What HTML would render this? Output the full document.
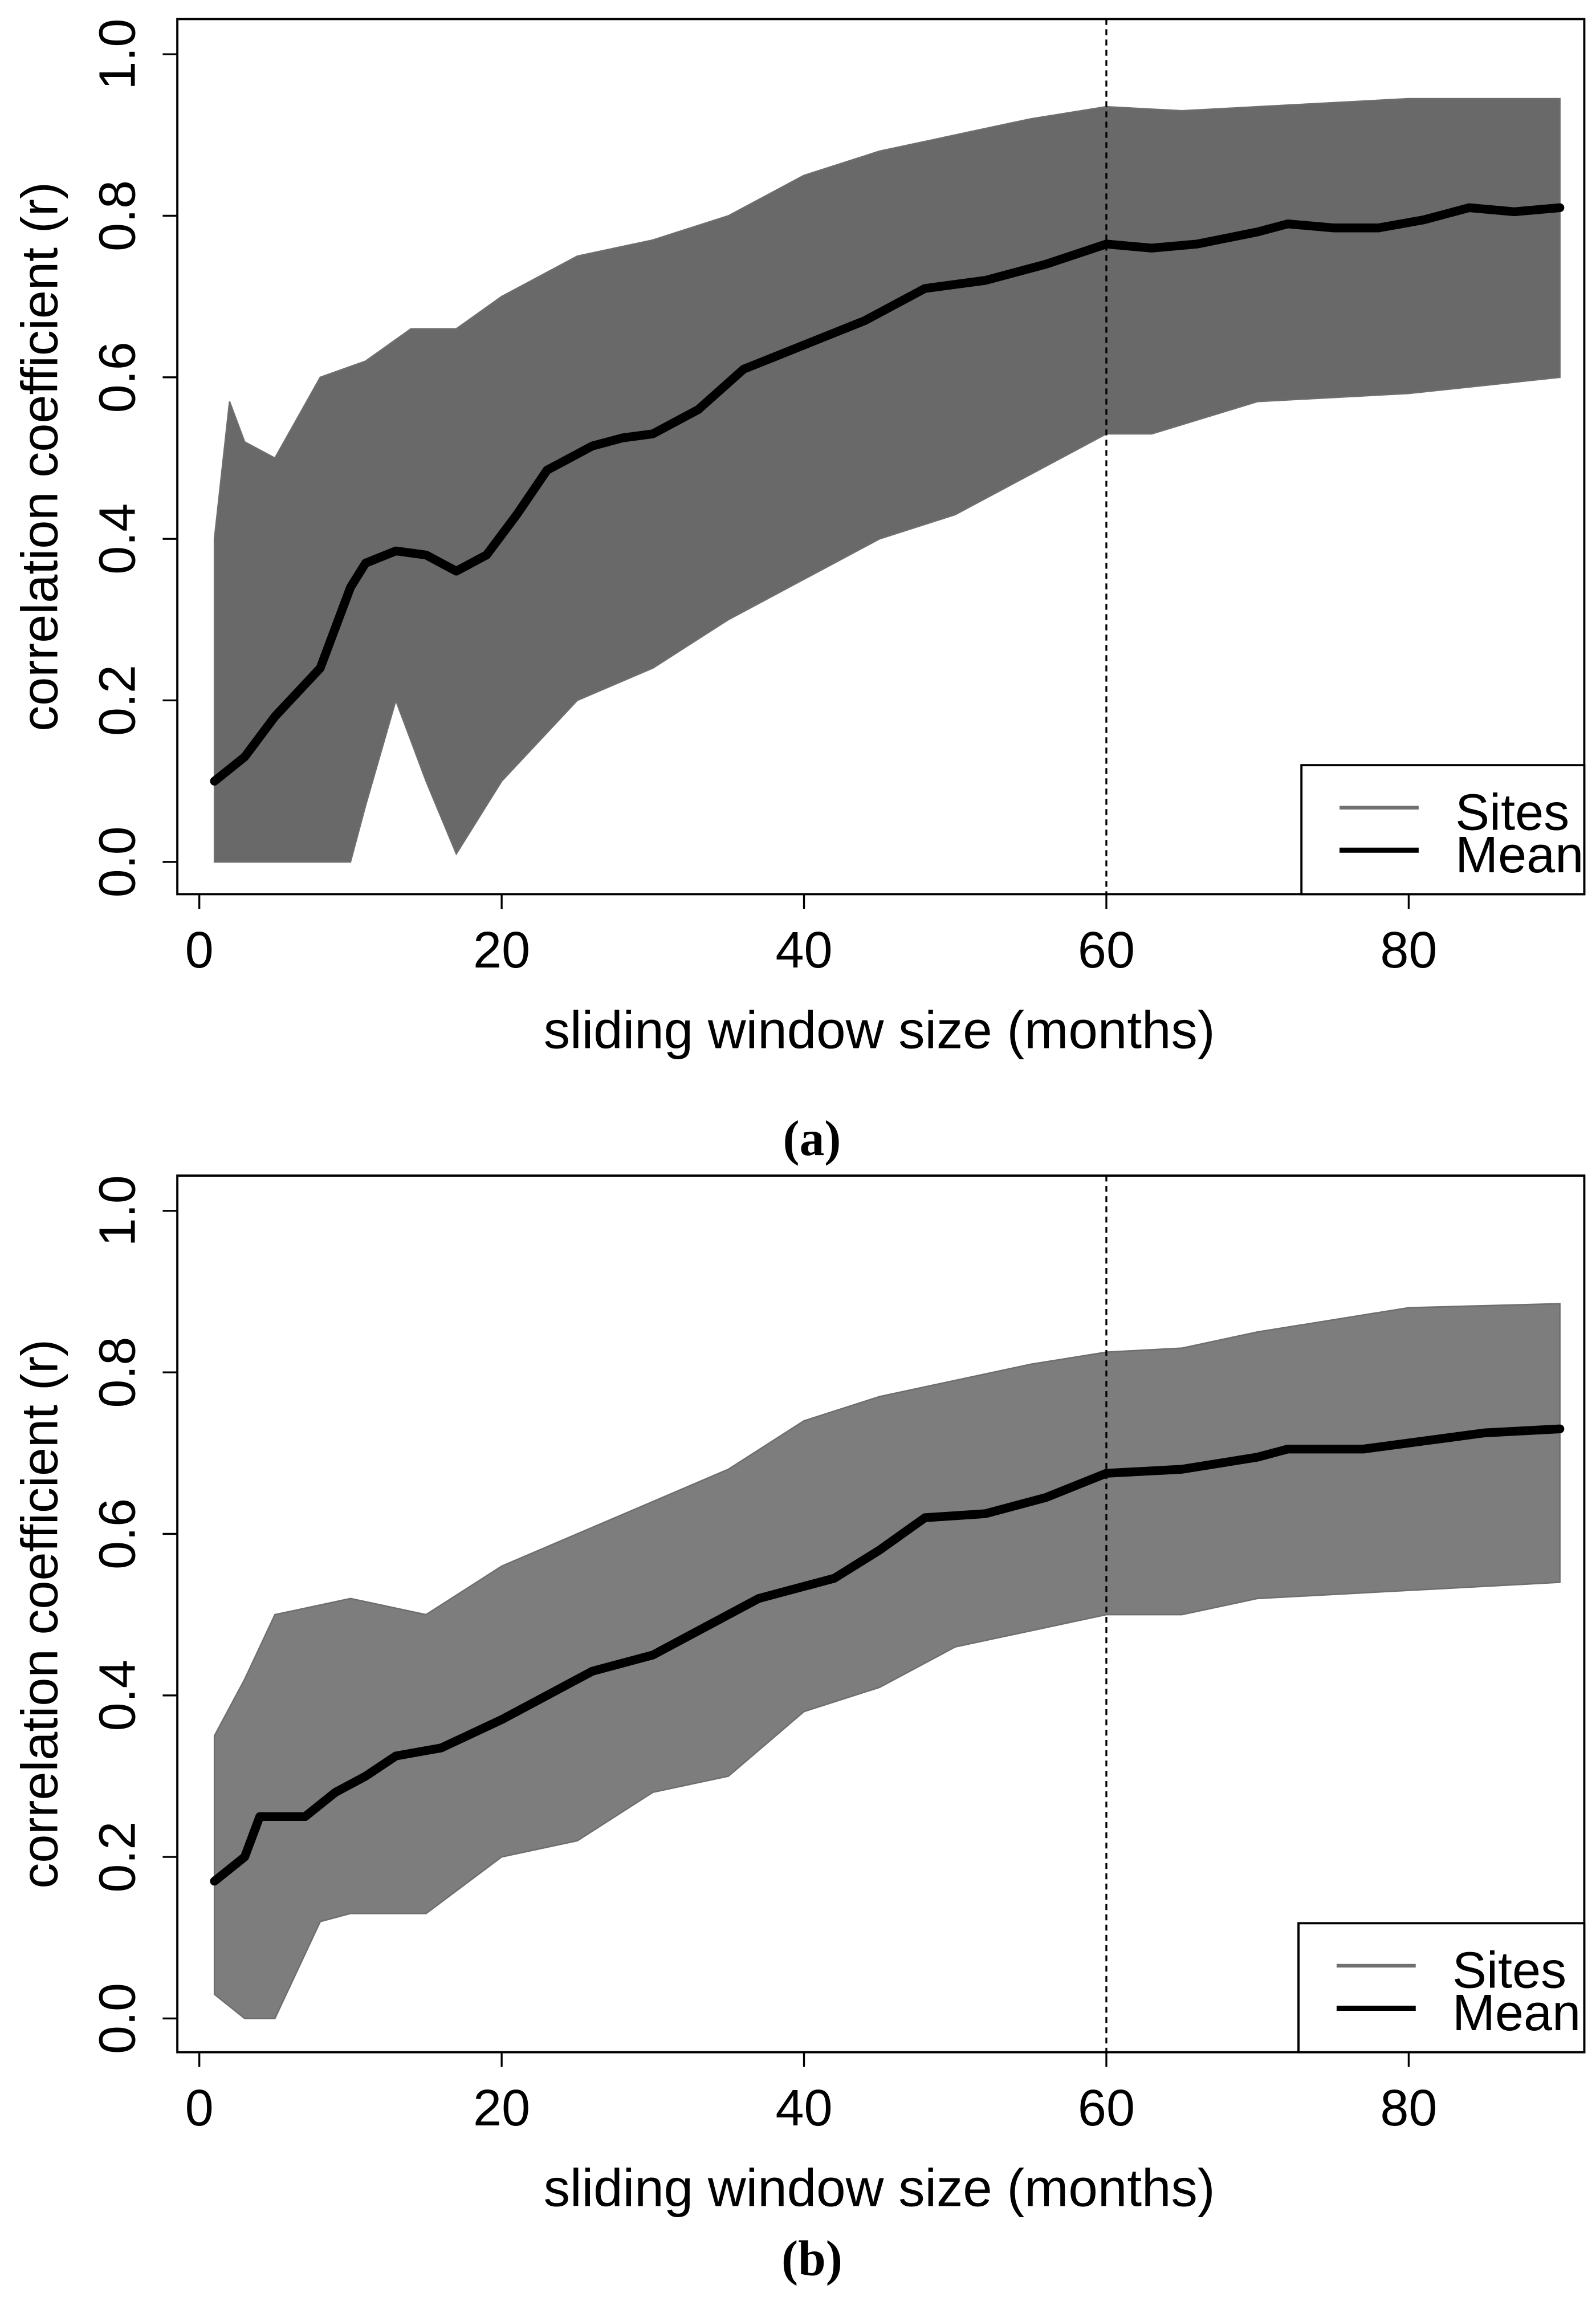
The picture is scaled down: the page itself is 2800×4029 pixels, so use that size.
<!DOCTYPE html>
<html><head><meta charset="utf-8">
<style>html,body{margin:0;padding:0;background:#fff}svg{display:block}</style>
</head><body>
<svg id="fig" width="2800" height="4029" viewBox="0 0 1089 1567" preserveAspectRatio="none" xmlns="http://www.w3.org/2000/svg" font-family="'Liberation Sans', sans-serif">
</svg>
<script>
const xTicks=[0,20,40,60,80];
const yTicks=[0.0,0.2,0.4,0.6,0.8,1.0];
const yTickLabels=["0.0","0.2","0.4","0.6","0.8","1.0"];
// Panel (a)
const aMeanX=[1,3,5,8,10,11,13,15,17,19,21,23,26,28,30,33,36,40,44,48,52,56,60,63,66,70,72,75,78,81,84,87,90];
const aMeanY=[0.10,0.13,0.18,0.24,0.34,0.37,0.385,0.38,0.36,0.38,0.43,0.485,0.515,0.525,0.53,0.56,0.61,0.64,0.67,0.71,0.72,0.74,0.765,0.76,0.765,0.78,0.79,0.785,0.785,0.795,0.81,0.805,0.81];
const aUpX=[1,2,3,5,8,11,14,17,20,25,30,35,40,45,50,55,60,65,70,80,90];
const aUpY=[0.40,0.57,0.52,0.50,0.60,0.62,0.66,0.66,0.70,0.75,0.77,0.80,0.85,0.88,0.90,0.92,0.935,0.93,0.935,0.945,0.945];
const aLoX=[1,10,11,13,15,17,20,25,30,35,40,45,50,55,60,63,70,80,90];
const aLoY=[0.0,0.0,0.07,0.20,0.10,0.01,0.10,0.20,0.24,0.30,0.35,0.40,0.43,0.48,0.53,0.53,0.57,0.58,0.60];
// Panel (b)
const bMeanX=[1,3,4,7,9,11,13,16,20,23,26,30,33,37,42,45,48,52,56,60,65,70,72,77,81,85,90];
const bMeanY=[0.17,0.20,0.25,0.25,0.28,0.30,0.325,0.335,0.37,0.40,0.43,0.45,0.48,0.52,0.545,0.58,0.62,0.625,0.645,0.675,0.68,0.695,0.705,0.705,0.715,0.725,0.73];
const bUpX=[1,3,5,10,15,20,25,30,35,40,45,50,55,60,65,70,80,90];
const bUpY=[0.35,0.42,0.50,0.52,0.50,0.56,0.60,0.64,0.68,0.74,0.77,0.79,0.81,0.825,0.83,0.85,0.88,0.885];
const bLoX=[1,3,5,8,10,15,20,25,30,35,40,45,50,55,60,65,70,80,90];
const bLoY=[0.03,0.0,0.0,0.12,0.13,0.13,0.20,0.22,0.28,0.30,0.38,0.41,0.46,0.48,0.50,0.50,0.52,0.53,0.54];

const NS="http://www.w3.org/2000/svg";
const svg=document.getElementById('fig');
function mk(tag,attrs,parent){const e=document.createElementNS(NS,tag);for(const k in attrs)e.setAttribute(k,attrs[k]);(parent||svg).appendChild(e);return e;}

function panel(p){
  const g=mk('g',{});
  
  
  const sx=v=>136+v*(206.3/20);
  const sy=v=>p.y0-v*(p.y0-p.y1);
  let pts=[];
  p.upX.forEach((x,i)=>pts.push(sx(x)+','+sy(p.upY[i])));
  for(let i=p.loX.length-1;i>=0;i--)pts.push(sx(p.loX[i])+','+sy(p.loY[i]));
  const band=mk('polygon',{points:pts.join(' '),fill:p.fill,stroke:'#6e6e6e','stroke-width':1},g);
  
  
  const dl=mk('line',{x1:sx(60),x2:sx(60),y1:p.top,y2:p.bot,stroke:'#000','stroke-width':1.3,'stroke-dasharray':'4,3'},g);
  
  
  const mp=p.mX.map((x,i)=>sx(x)+','+sy(p.mY[i])).join(' ');
  const ml=mk('polyline',{points:mp,fill:'none',stroke:'#000','stroke-width':6,'stroke-linejoin':'round','stroke-linecap':'round'},g);
  
  
  const box=mk('rect',{x:121,y:p.top,width:960,height:p.bot-p.top,fill:'none',stroke:'#000','stroke-width':1.5},g);
  
  
  xTicks.forEach(t=>{
    const tl=mk('line',{x1:sx(t),x2:sx(t),y1:p.bot,y2:p.bot+10,stroke:'#000','stroke-width':1.3},g);
    
    
    const tx=mk('text',{x:sx(t),y:p.bot+50,'font-size':35,'text-anchor':'middle'},g);
    tx.textContent=t;
    
    
  });
  yTicks.forEach((t,i)=>{
    const tl=mk('line',{x1:111,x2:121,y1:sy(t),y2:sy(t),stroke:'#000','stroke-width':1.3},g);
    
    
    const tx=mk('text',{x:0,y:0,'font-size':35,'text-anchor':'middle',transform:'translate(92,'+sy(t)+') rotate(-90)'},g);
    tx.textContent=yTickLabels[i];
    
    
  });
  const xl=mk('text',{x:600,y:p.bot+105,'font-size':36,'text-anchor':'middle'},g);
  xl.textContent='sliding window size (months)';
  
  
  const yl=mk('text',{x:0,y:0,'font-size':35,'text-anchor':'middle',transform:'translate(39,'+((p.top+p.bot)/2)+') rotate(-90)'},g);
  yl.textContent='correlation coefficient (r)';
  
  
  const lg=mk('g',{},g);
  
  
  const lt=p.bot-88;
  mk('rect',{x:p.lx,y:lt,width:1081-p.lx,height:88,fill:'#fff',stroke:'#000','stroke-width':1.5},lg);
  const l1=mk('line',{x1:p.lx+26,x2:p.lx+80,y1:lt+29,y2:lt+29,stroke:'#707070','stroke-width':2.5},lg);
  
  
  const l2=mk('line',{x1:p.lx+26,x2:p.lx+80,y1:lt+58,y2:lt+58,stroke:'#000','stroke-width':3.5},lg);
  
  
  const t1=mk('text',{x:p.lx+105,y:lt+44,'font-size':35},lg);t1.textContent='Sites';
  
  
  const t2=mk('text',{x:p.lx+105,y:lt+73,'font-size':35},lg);t2.textContent='Mean';
  
  
  const cap=mk('text',{x:554,y:p.cap,'font-size':34,'font-weight':'bold','text-anchor':'middle','font-family':"'Liberation Serif', serif"},g);
  cap.textContent=p.label;
  
  
}
panel({name:'panel-a',top:13,bot:610,y0:588,y1:37,upX:aUpX,upY:aUpY,loX:aLoX,loY:aLoY,mX:aMeanX,mY:aMeanY,fill:'#696969',lx:888,label:'(a)',cap:788});
panel({name:'panel-b',top:802,bot:1400,y0:1377,y1:826,upX:bUpX,upY:bUpY,loX:bLoX,loY:bLoY,mX:bMeanX,mY:bMeanY,fill:'#7d7d7d',lx:886,label:'(b)',cap:1552});
</script>
</body></html>
